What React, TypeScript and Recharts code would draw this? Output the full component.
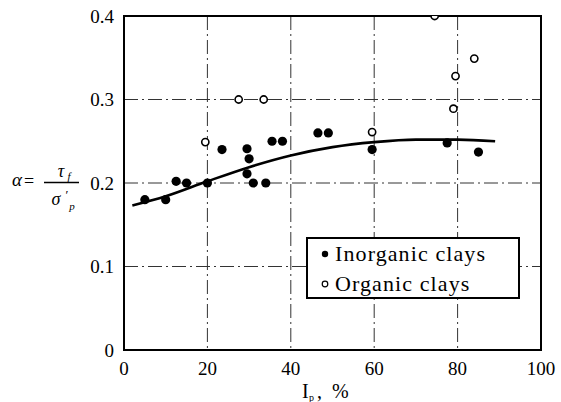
import React from 'react';
import {
  ComposedChart, Scatter, Line, XAxis, YAxis, CartesianGrid, ReferenceArea, Legend,
} from 'recharts';

const xTicks = [0, 20, 40, 60, 80, 100];
const yTicks = [0, 0.1, 0.2, 0.3, 0.4];

const inorganicIp = [5, 10, 12.5, 15, 20, 23.5, 29.5, 30, 29.5, 31, 34, 35.5, 38, 46.5, 49, 59.5, 77.5, 85];
const inorganicAlpha = [0.18, 0.18, 0.202, 0.2, 0.2, 0.24, 0.241, 0.229, 0.211, 0.2, 0.2, 0.25, 0.25, 0.26, 0.26, 0.24, 0.248, 0.237];

const organicIp = [19.5, 27.5, 33.5, 59.5, 74.5, 84, 79.5, 79];
const organicAlpha = [0.249, 0.3, 0.3, 0.261, 0.4, 0.349, 0.328, 0.289];

const curveIp = [2, 10, 20, 30, 40, 50, 60, 70, 80, 89];
const curveAlpha = [0.173, 0.184, 0.202, 0.219, 0.233, 0.243, 0.249, 0.252, 0.252, 0.25];

const inorganic = inorganicIp.map((x, i) => ({ x, y: inorganicAlpha[i] }));
const organic = organicIp.map((x, i) => ({ x, y: organicAlpha[i] }));
const curve = curveIp.map((x, i) => ({ x, y: curveAlpha[i] }));

const FONT = 'Liberation Serif';

const FilledDot = (props: any) => {
  const { cx, cy } = props;
  if (cx == null || cy == null) return null;
  return <circle cx={cx} cy={cy} r={4.6} fill="#000" />;
};

const OpenDot = (props: any) => {
  const { cx, cy } = props;
  if (cx == null || cy == null) return null;
  return <circle cx={cx} cy={cy} r={3.6} fill="#fff" stroke="#000" strokeWidth={1.6} />;
};

const YLabel = () => (
  <g fontFamily={FONT} fill="#000">
    <text x={17} y={186} fontSize={19} textAnchor="middle" fontStyle="italic" fontFamily={FONT}>α</text>
    <text x={29} y={187} fontSize={18} textAnchor="middle" fontFamily={FONT}>=</text>
    <line x1={44} x2={79} y1={182.5} y2={182.5} stroke="#000" strokeWidth={1.3} />
    <text x={61} y={177} fontSize={18} textAnchor="middle" fontStyle="italic" fontFamily={FONT}>τ</text>
    <text x={69} y={180} fontSize={11} textAnchor="middle" fontStyle="italic" fontFamily={FONT}>f</text>
    <text x={56} y={205} fontSize={18} textAnchor="middle" fontStyle="italic" fontFamily={FONT}>σ</text>
    <text x={67} y={199} fontSize={13} textAnchor="middle" fontFamily={FONT}>′</text>
    <text x={72} y={210} fontSize={11} textAnchor="middle" fontStyle="italic" fontFamily={FONT}>p</text>
  </g>
);

const XLabel = () => (
  <g fontFamily={FONT} fill="#000">
    <text x={302} y={398} fontSize={20} fontFamily={FONT}>I</text>
    <text x={309} y={401} fontSize={10} fontFamily={FONT}>p</text>
    <text x={317} y={398} fontSize={20} fontFamily={FONT} style={{ whiteSpace: 'pre' }}>,  %</text>
  </g>
);

const LegendBox = () => (
  <div
    style={{
      boxSizing: 'border-box',
      width: 214,
      height: 62,
      border: '2px solid #000',
      background: '#fff',
      fontFamily: FONT,
      fontSize: 22,
      letterSpacing: 1.1,
      color: '#000',
      position: 'relative',
    }}
  >
    <div style={{ position: 'absolute', left: 27, top: 1, lineHeight: '28px', whiteSpace: 'nowrap' }}>Inorganic clays</div>
    <div style={{ position: 'absolute', left: 27, top: 31, lineHeight: '28px', whiteSpace: 'nowrap' }}>Organic clays</div>
    <svg style={{ position: 'absolute', left: 0, top: 0 }} width={30} height={60}>
      <circle cx={17} cy={15} r={3.2} fill="#000" />
      <circle cx={17} cy={45} r={2.8} fill="#fff" stroke="#000" strokeWidth={1.2} />
    </svg>
  </div>
);

export default function App() {
  return (
    <div style={{ position: 'absolute', left: 0, top: 0, width: 561, height: 402, background: '#fff', fontFamily: FONT }}>
      <ComposedChart
        width={561}
        height={402}
        margin={{ top: 16, right: 20, bottom: 0, left: 0 }}
        style={{ fontFamily: FONT }}
      >
        <CartesianGrid
          stroke="#333"
          strokeWidth={1}
          strokeDasharray="14 4 2 4"
          horizontalValues={[0.1, 0.2, 0.3]}
          verticalValues={[20, 40, 60, 80]}
        />
        <XAxis
          type="number"
          dataKey="x"
          domain={[0, 100]}
          ticks={xTicks}
          allowDataOverflow
          height={52}
          tickLine={false}
          tickSize={0}
          tickMargin={12}
          axisLine={{ stroke: '#000', strokeWidth: 2 }}
          tick={{ fill: '#000', fontSize: 19, fontFamily: FONT }}
          label={<XLabel />}
        />
        <YAxis
          type="number"
          dataKey="y"
          domain={[0, 0.4]}
          ticks={yTicks}
          allowDataOverflow
          width={124}
          tickLine={false}
          tickSize={0}
          tickMargin={10}
          axisLine={{ stroke: '#000', strokeWidth: 2 }}
          tick={{ fill: '#000', fontSize: 19, fontFamily: FONT }}
          label={<YLabel />}
        />
        <ReferenceArea x1={0} x2={100} y1={0} y2={0.4} fill="none" stroke="#000" strokeWidth={2} />
        <Line
          data={curve}
          dataKey="y"
          type="monotone"
          stroke="#000"
          strokeWidth={2.6}
          dot={false}
          isAnimationActive={false}
          legendType="none"
        />
        <Scatter data={inorganic} dataKey="y" name="Inorganic clays" shape={<FilledDot />} isAnimationActive={false} />
        <Scatter data={organic} dataKey="y" name="Organic clays" shape={<OpenDot />} isAnimationActive={false} />
        <Legend
          layout="horizontal"
          verticalAlign="middle"
          align="center"
          content={<LegendBox />}
          wrapperStyle={{ position: 'absolute', left: 306, top: 237, width: 214, height: 62, bottom: 'auto', right: 'auto' }}
        />
      </ComposedChart>
    </div>
  );
}
